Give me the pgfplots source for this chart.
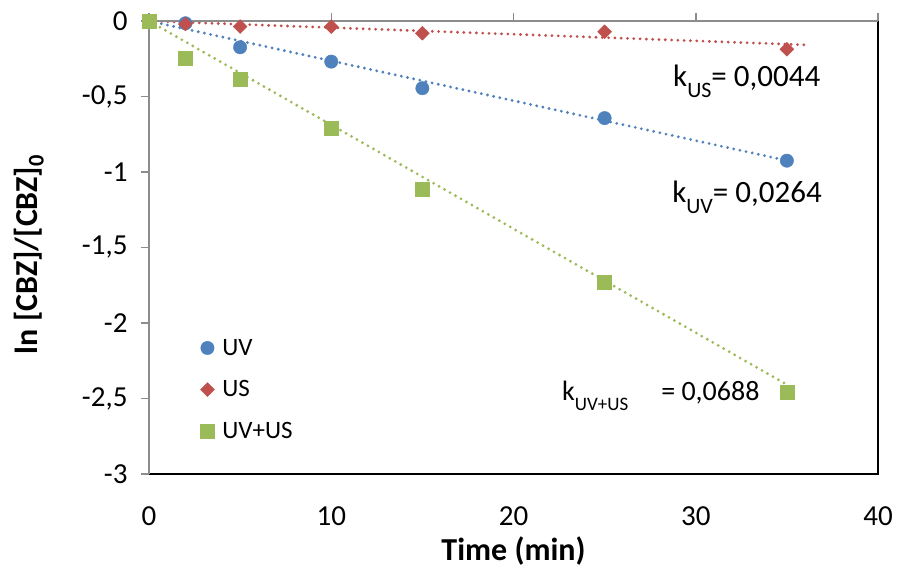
\documentclass[border=0pt]{standalone}
\usepackage{fontspec}
\setmainfont{Carlito}
\usepackage{pgfplots}
\pgfplotsset{compat=1.18}
\definecolor{cUV}{HTML}{4F81BD}
\definecolor{cUS}{HTML}{C0504D}
\definecolor{cMix}{HTML}{9BBB59}
\definecolor{axgray}{HTML}{8C8C8C}
\begin{document}
\begin{tikzpicture}
\begin{axis}[
  scale only axis, width=729pt, height=453pt,
  xmin=0, xmax=40, ymin=-3, ymax=0,
  clip=false,
  xtick={0,10,20,30,40},
  ytick={-3,-2.5,-2,-1.5,-1,-0.5,0},
  yticklabels={-3,{-2,5},-2,{-1,5},-1,{-0,5},0},
  xtick pos=upper, xticklabel pos=lower,
  ytick pos=left, tick align=outside,
  major tick length=8pt,
  tick style={axgray, line width=1.5pt},
  axis line style={draw=none},
  ticklabel style={font=\fontsize{29}{32}\selectfont},
  xticklabel style={yshift=-21pt},
  yticklabel style={xshift=-10pt},
  /pgf/number format/assume math mode=true,
  xlabel={\textbf{Time (min)}},
  ylabel={\textbf{ln [CBZ]/[CBZ]\textsubscript{0}}},
  every axis x label/.style={at={(axis description cs:0.5,0)}, anchor=center, yshift=-77pt, font=\fontsize{32}{34}\selectfont},
  every axis y label/.style={at={(axis description cs:0,0.5)}, anchor=center, rotate=90, xshift=-7pt, yshift=120pt, font=\fontsize{32}{34}\selectfont},
  legend style={at={(axis description cs:0.0703,0.298)}, anchor=north west, draw=none, fill=none,
    font=\fontsize{25}{27}\selectfont, row sep=24pt, inner sep=0pt,
    nodes={inner sep=0pt}, column sep=8pt},
  legend cell align=left,
  legend image code/.code={\draw[#1] plot coordinates {(0pt,0pt)};},
  trend/.style={line width=3.1pt, dash pattern=on 0pt off 6.3pt, line cap=round, forget plot},
]
% trendlines (fitted lines ln C/C0 = -k t)
\addplot[trend, cUV] coordinates {(0,0) (35,-0.924)};
\addplot[trend, cUS] coordinates {(0,0) (36,-0.158)};
\addplot[trend, cMix] coordinates {(0,0) (35,-2.408)};
% data
\addplot[only marks, mark=*, mark size=6.7pt, color=cUV, mark options={fill=cUV, draw=cUV}]
  coordinates {(0,0) (2,-0.015) (5,-0.174) (10,-0.269) (15,-0.445) (25,-0.643) (35,-0.925)};
\addlegendentry{UV}
\addplot[only marks, mark=square*, mark size=4.9pt, color=cUS, mark options={rotate=45, fill=cUS, draw=cUS}]
  coordinates {(0,0) (2,-0.02) (5,-0.037) (10,-0.037) (15,-0.081) (25,-0.071) (35,-0.187)};
\addlegendentry{US}
\addplot[only marks, mark=square*, mark size=7pt, color=cMix, mark options={fill=cMix, draw=cMix}]
  coordinates {(0,0) (2,-0.247) (5,-0.383) (10,-0.709) (15,-1.112) (25,-1.729) (35,-2.457)};
\addlegendentry{UV+US}
% frame
\draw[black, line width=1.3pt] (rel axis cs:1,1) -- (rel axis cs:1,0) -- (rel axis cs:0,0);
\draw[axgray, line width=1.8pt] (rel axis cs:0,0) -- (rel axis cs:0,1) -- (rel axis cs:1,1);
% annotations
\node[anchor=base west, inner sep=0pt, font=\fontsize{31}{33}\selectfont] at (axis cs:28.75,-0.435)
  {k\raisebox{-11pt}{\fontsize{22}{24}\selectfont US}= 0,0044};
\node[anchor=base west, inner sep=0pt, font=\fontsize{31}{33}\selectfont] at (axis cs:28.7,-1.205)
  {k\raisebox{-11pt}{\fontsize{22}{24}\selectfont UV}= 0,0264};
\node[anchor=base west, inner sep=0pt, font=\fontsize{28}{30}\selectfont] at (axis cs:22.66,-2.51)
  {k\raisebox{-10pt}{\fontsize{19}{20}\selectfont UV+US}\hspace{33pt}= 0,0688};
\end{axis}
\pgfresetboundingbox
\useasboundingbox (-149pt,-104pt) rectangle (750pt,474pt);
\end{tikzpicture}
\end{document}
